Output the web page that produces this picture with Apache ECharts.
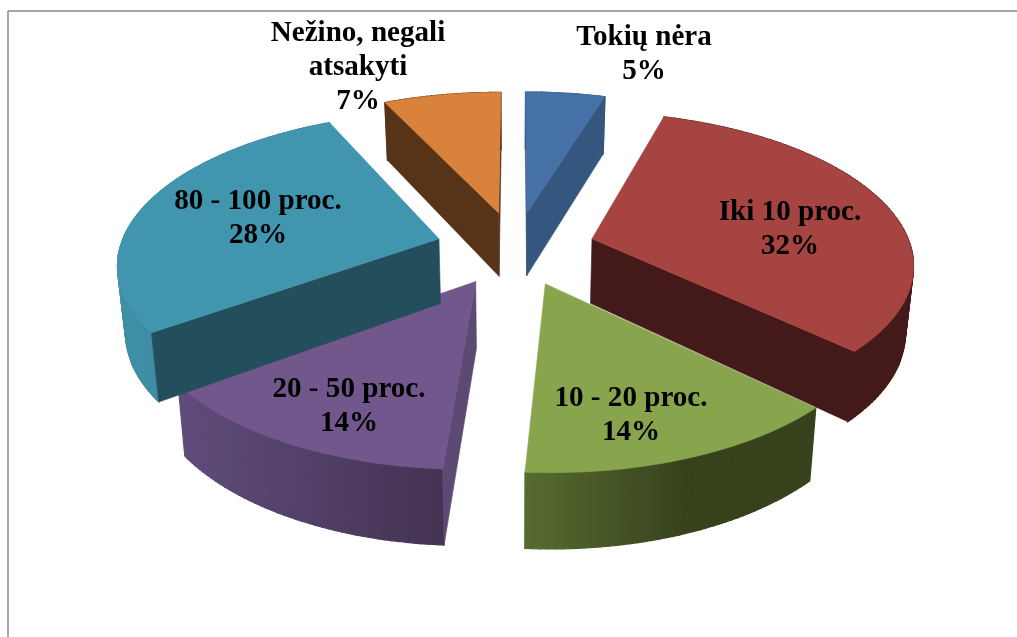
<!DOCTYPE html>
<html><head><meta charset="utf-8">
<style>html,body{margin:0;padding:0;background:#fff}#c{width:1017px;height:637px}</style>
<script src="https://cdn.jsdelivr.net/npm/echarts@6/dist/echarts.min.js"></script>
</head><body><div id="c"></div>
<script>
const categories = ['Tokių nėra','Iki 10 proc.','10 - 20 proc.','20 - 50 proc.','80 - 100 proc.','Nežino, negali\natsakyti'];
const values = [4.75,32.45,13.85,13.95,28,7];

const topColors = ['#4671A6','#A64442','#88A44D','#71578C','#4195AE','#D9823C'];
const sideColors = [['#35577F','#35577F'],['#431A19','#431A19'],['#566B30','#37421C'],['#5F4C7C','#443352'],['#3E8FA6','#3A8195'],['#573317','#573317']];
const sideReach = [1,1,0.55,1,1,1];
const cutColors = ['#35577F','#431A19','#37421C','#5C4A75','#234E5B','#573317'];
const labelCenters = [[644,37],[790,212],[631,398],[349,389],[258,201],[358,33]];

const P = {cx:515.5, cy:248, a:319, b:148.5, k:0.15, e:0.25, xs:0.98, d0:65, d1:0.05};
const total = values.reduce((s,v)=>s+v,0);
let acc = 0;
const spans = values.map(v=>{const s=acc/total*2*Math.PI; acc+=v; return [s,acc/total*2*Math.PI];});

function proj(u,v){const w=1-P.k*v; return [P.cx+P.a*u/w, P.cy+P.b*v/w];}
function low(p){return [P.cx+(p[0]-P.cx)*P.xs, p[1]+P.d0+P.d1*(p[1]-P.cy)];}
function side(A,B,p){return (B[0]-A[0])*(p[1]-A[1])-(B[1]-A[1])*(p[0]-A[0]);}

function renderItem(params){
  const i=params.dataIndex, [s,e]=spans[i], m=(s+e)/2;
  const ou=P.e*Math.sin(m), ov=-P.e*Math.cos(m);
  const apex=proj(ou,ov), arc=[];
  const n=Math.max(12,Math.round((e-s)*50));
  for(let j=0;j<=n;j++){const t=s+(e-s)*j/n; arc.push(proj(ou+Math.sin(t),ov-Math.cos(t)));}
  const lowArc=arc.map(low), lowApex=low(apex);
  const poly=(pts,fill,w)=>({type:'polygon',shape:{points:pts},style:{fill:fill,stroke:fill,lineWidth:w}});
  const xs=arc.map(p=>p[0]), x0=Math.min(...xs), x1=Math.max(...xs);
  const grad={type:'linear',global:true,x:x0,y:0,x2:x0+(x1-x0)*sideReach[i],y2:0,
    colorStops:[{offset:0,color:sideColors[i][0]},{offset:1,color:sideColors[i][1]}]};
  const quads=[];
  for(let j=0;j<n;j++) quads.push(poly([arc[j],arc[j+1],lowArc[j+1],lowArc[j]],grad,1.2));
  const mid=arc[Math.floor(n/2)];
  const cuts=[];
  [0,n].forEach(q=>{
    const B=arc[q], down=[apex[0],apex[1]+1];
    if(side(apex,B,mid)*side(apex,B,down)<0) cuts.push(poly([apex,B,lowArc[q],lowApex],cutColors[i],0.6));
  });
  const [lx,ly]=labelCenters[i];
  const raw=(categories[i]+'\n'+Math.round(values[i])+'%').split('\n');
  const texts=raw.map((t,q)=>({type:'text',style:{text:t,x:lx,y:ly+q*34,align:'center',verticalAlign:'middle',font:'bold 29.1px "Liberation Serif"',fill:'#000'},z2:10}));
  return {type:'group',children:quads.concat(cuts,[poly([apex].concat(arc),topColors[i],0.6)],texts)};
}
const chart=echarts.init(document.getElementById('c'),null,{renderer:'canvas'});
chart.setOption({
  animation:false,
  graphic:[
    {type:'line',shape:{x1:8,y1:11,x2:1017,y2:11},style:{stroke:'#868686',lineWidth:1.5}},
    {type:'line',shape:{x1:8,y1:11,x2:8,y2:637},style:{stroke:'#868686',lineWidth:1.5}}
  ],
  series:[{type:'custom',coordinateSystem:'none',renderItem:renderItem,data:values,silent:true}]
});
</script></body></html>
